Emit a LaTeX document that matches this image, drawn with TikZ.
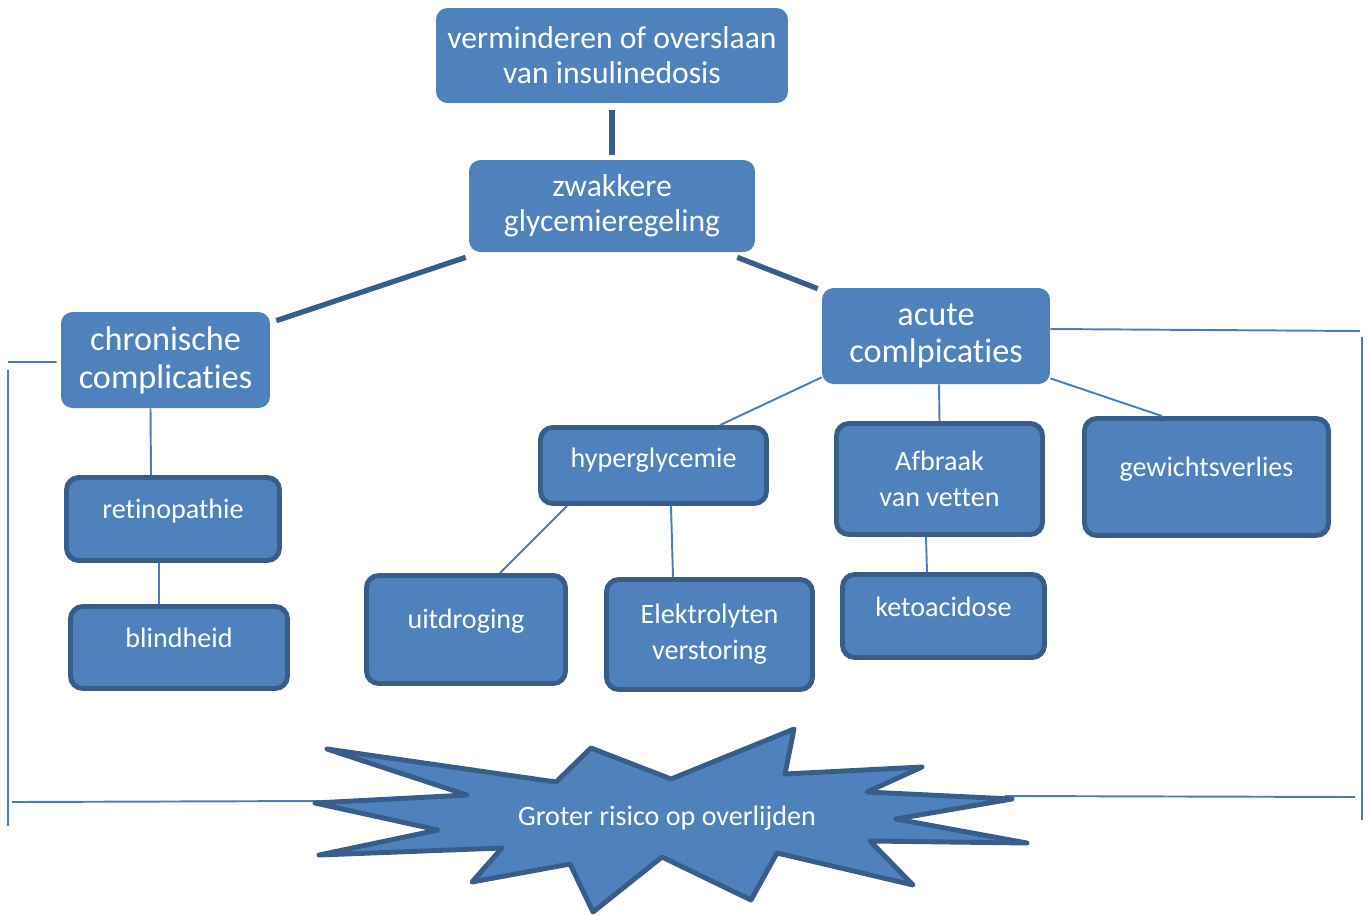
\documentclass[tikz,border=0pt]{standalone}
\usepackage{fontspec}
\setmainfont{Carlito}[Ligatures=NoCommon]
\usetikzlibrary{calc}
\definecolor{boxblue}{RGB}{79,129,189}
\definecolor{edgeblue}{RGB}{56,93,138}
\definecolor{lineblue}{RGB}{74,126,187}

\begin{document}
\begin{tikzpicture}[x=0.02cm,y=-0.02cm,
  T/.style={fill=boxblue,text=white,rounded corners=6.5pt,
            align=center,inner sep=0pt,
            font=\fontsize{18}{20}\selectfont},
  C/.style={fill=boxblue,text=white,rounded corners=6.5pt,
            align=center,inner sep=0pt,
            font=\fontsize{19.5}{21.5}\selectfont},
  L/.style={fill=boxblue,draw=edgeblue,line width=2.8pt,
            text=white,rounded corners=7pt,
            align=center,inner sep=0pt,
            font=\fontsize{16}{20.4}\selectfont},
  lift/.style={text height=0.7em,text depth=#1},
  lift/.default=0.71em,
  tk/.style={draw=edgeblue,line width=3pt},
  tn/.style={draw=lineblue,line width=1.1pt},
  br/.style={draw=lineblue,line width=1.1pt},
  burst/.style={fill=boxblue,draw=edgeblue,line width=2.8pt,line join=round}
]
\useasboundingbox (0,0) rectangle (1370,914);

% top chain
\node[T,minimum width=7.04cm,minimum height=1.9cm] (dose) at (612,55.5)
      {verminderen of overslaan\\van insulinedosis};
\node[T,minimum width=5.72cm,minimum height=1.84cm] (glyc) at (612,206)
      {zwakkere\\glycemieregeling};

% two branches
\node[C,minimum width=4.18cm,minimum height=1.92cm] (chron) at (165.5,360)
      {chronische\\complicaties};
\node[C,minimum width=4.56cm,minimum height=1.92cm] (acute) at (936,336)
      {acute\\comlpicaties};

% chronic side
\node[L,lift,minimum width=4.26cm,minimum height=1.66cm] (retino) at (173,519)
      {retinopathie};
\node[L,lift,minimum width=4.34cm,minimum height=1.64cm] (blind) at (179,647.5)
      {blindheid};

% acute side
\node[L,lift=0.53em,minimum width=4.52cm,minimum height=1.52cm] (hyper) at (653.5,465.5)
      {hyperglycemie};
\node[L,minimum width=4.12cm,minimum height=2.22cm] (fat) at (939.5,479)
      {Afbraak\\van vetten};
\node[L,lift=0.81em,minimum width=4.88cm,minimum height=2.34cm] (weight) at (1206.5,477)
      {gewichtsverlies};
\node[L,lift=0.81em,minimum width=3.98cm,minimum height=2.16cm] (dry) at (466,629.5)
      {uitdroging};
\node[L,minimum width=4.12cm,minimum height=2.2cm] (elec) at (709.5,634.5)
      {Elektrolyten\\verstoring};
\node[L,lift=0.64em,minimum width=4.04cm,minimum height=1.66cm] (keto) at (943.5,616)
      {ketoacidose};

% bracket ends
\coordinate (lTop) at (8,362);
\coordinate (lUp)  at (8,370);
\coordinate (lLow) at (8,826);
\coordinate (lBot) at (12,802);
\coordinate (starL) at (320,801);
\coordinate (rTop) at (1360,331);
\coordinate (rUp)  at (1362,337);
\coordinate (rLow) at (1362,820);
\coordinate (starR) at (1005,796);
\coordinate (rBot) at (1355,797);

% brackets
\draw[br,shorten >=0.08cm] (lTop) -- ([yshift=-0.04cm]chron.west);
\draw[br] (lUp) -- (lLow);
\draw[br] (lBot) -- (starL);
\draw[br] ([yshift=0.14cm]acute.east) -- (rTop);
\draw[br] (rUp) -- (rLow);
\draw[br] (starR) -- (rBot);

% burst
\draw[burst] (327,749) -- (467,795) -- (315,803) -- (438,830) -- (319,855)
      -- (502,848) -- (472,882) -- (570,864) -- (593,912) -- (662,857)
      -- (751,900) -- (777,853) -- (913,885) -- (870,841) -- (1027,843)
      -- (896,819) -- (1012,799) -- (867,792) -- (922,767) -- (785,774)
      -- (794,729) -- (671,779) -- (591,748) -- (556,782) -- cycle;
\node[text=white,font=\fontsize{16}{20}\selectfont] (risk) at (667,818)
      {Groter risico op overlijden};

% thick links
\draw[tk,shorten <=0.14cm,shorten >=0.1cm] (dose.south) -- (glyc.north);
\draw[tk] ($(glyc.south west)+(-3,5)$) -- ($(chron.north east)+(6,9)$);
\draw[tk] ($(glyc.south east)+(-18,5)$) -- ($(acute.north west)+(-4,1)$);

% thin links
\draw[tn] ([xshift=-0.3cm]chron.south) -- ([xshift=-0.44cm]retino.north);
\draw[tn] ([xshift=-0.28cm]retino.south) -- ([xshift=-0.4cm]blind.north);
\draw[tn] ([yshift=0.14cm]acute.south west) -- ([xshift=1.33cm]hyper.north);
\draw[tn] ([xshift=0.06cm]acute.south) -- (fat.north);
\draw[tn] ([yshift=0.12cm]acute.south east) -- ([xshift=-0.89cm]weight.north);
\draw[tn] ([xshift=-1.73cm]hyper.south) -- ([xshift=0.68cm]dry.north);
\draw[tn] ([xshift=0.35cm]hyper.south) -- ([xshift=-0.73cm]elec.north);
\draw[tn] ([xshift=-0.27cm]fat.south) -- ([xshift=-0.33cm]keto.north);

\end{tikzpicture}
\end{document}
